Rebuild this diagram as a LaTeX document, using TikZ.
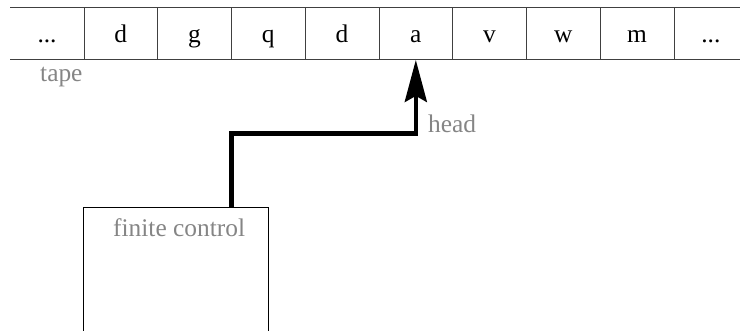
\documentclass[tikz,border=0pt]{standalone}
\usepackage{fontspec}
\setmainfont{Liberation Serif}
\usetikzlibrary{arrows.meta}

\tikzset{
  cell/.style={minimum width=73.75pt, minimum height=52pt, inner sep=0pt,
    text height=18pt, text depth=0pt,
    anchor=north west, font=\fontsize{25.4}{30}\selectfont},
  tapeline/.style={draw=black!75, line width=1pt},
  boxline/.style={draw=black, line width=1pt},
  lbl/.style={text=black!48, inner sep=0pt, anchor=base west,
    font=\fontsize{25.4}{30}\selectfont},
  headarrow/.style={line width=4.5pt, line join=miter,
    -{Stealth[length=42pt, width=22pt, inset=6pt]}}
}

\begin{document}
\begin{tikzpicture}[x=1pt, y=-1pt]
  \useasboundingbox (0,0) rectangle (740,331);
  \clip (0,0) rectangle (740,331);

  % tape cells
  \node[cell] (c0) at (10,7.5) {...};
  \node[cell] (c1) at (83.75,7.5) {d};
  \node[cell] (c2) at (157.5,7.5) {g};
  \node[cell] (c3) at (231.25,7.5) {q};
  \node[cell] (c4) at (305,7.5) {d};
  \node[cell] (c5) at (378.75,7.5) {a};
  \node[cell] (c6) at (452.5,7.5) {v};
  \node[cell] (c7) at (526.25,7.5) {w};
  \node[cell] (c8) at (600,7.5) {m};
  \node[cell] (c9) at (673.75,7.5) {...};

  % tape borders: open at both ends
  \draw[tapeline] (c0.north west) -- (c9.north east);
  \draw[tapeline] (c0.south west) -- (c9.south east);
  \foreach \k in {0,...,8}
    \draw[tapeline] (c\k.north east) -- (c\k.south east);

  \node[lbl] (tape) at (40,81.5) {tape};

  % finite control box, open at the bottom
  \node[minimum width=185.5pt, minimum height=150pt, inner sep=0pt,
        anchor=north west] (fc) at (83,207.3) {};
  \draw[boxline] (fc.south west) -- (fc.north west) -- (fc.north east) -- (fc.south east);
  \node[lbl] (fctext) at (113,237) {finite control};

  % read/write head
  \coordinate (hstart) at (231.5,207.3);
  \coordinate (elbow) at (231.5,133.5);
  \draw[headarrow] (hstart) -- (elbow) -| (c5.south);
  \node[lbl] (head) at (428,133) {head};
\end{tikzpicture}
\end{document}
